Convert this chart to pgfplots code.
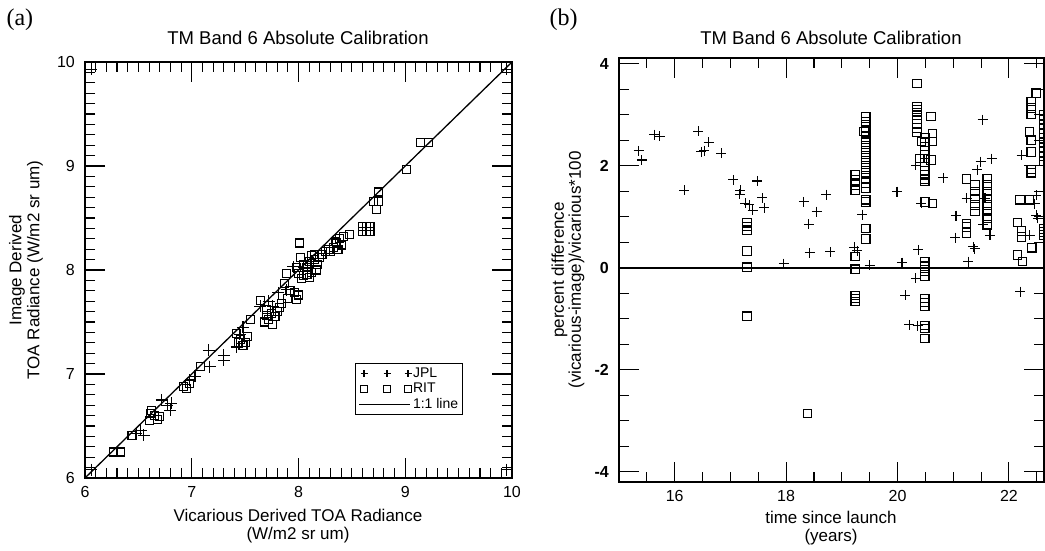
\documentclass[border=0pt]{standalone}
\usepackage{fontspec}
\setmainfont{Liberation Sans}
\newfontfamily\seriffont{Liberation Serif}
\usepackage{pgfplots}
\pgfplotsset{compat=1.18}

\pgfplotsset{
  idl/.style={
    scale only axis,
    anchor=south west,
    axis line style={line width=1.3pt},
    major tick length=0pt,
    minor tick length=0pt,
    tick label style={font=\fontsize{16}{18}\selectfont, inner sep=0pt},
    xticklabel style={yshift=-8pt},
    yticklabel style={xshift=-10pt},
  },
  tickup/.style={forget plot, only marks, black, mark=|, mark size=#1, mark options={yshift=#1, line width=1.1pt}},
  tickdown/.style={forget plot, only marks, black, mark=|, mark size=#1, mark options={yshift=-#1, line width=1.1pt}},
  tickright/.style={forget plot, only marks, black, mark=-, mark size=#1, mark options={xshift=#1, line width=1.1pt}},
  tickleft/.style={forget plot, only marks, black, mark=-, mark size=#1, mark options={xshift=-#1, line width=1.1pt}},
  jpl/.style={only marks, mark=+, mark size=6pt, mark options={line width=1.1pt}},
  rit/.style={only marks, mark=square, mark size=4pt, mark options={line width=1.1pt}},
  leg marks/.style={legend image code/.code={%
    \draw[##1, mark size=3.5pt] plot[only marks] coordinates {(0pt,0pt) (23pt,0pt) (44pt,0pt)};}},
  leg line/.style={legend image code/.code={%
    \draw[##1] (-5pt,0pt) -- (46pt,0pt);}},
}

\begin{document}
\begin{tikzpicture}
\useasboundingbox (0pt,0pt) rectangle (1045pt,550pt);

% panel labels and titles
\node[anchor=west, font=\seriffont\fontsize{24}{26}\selectfont] at (3pt,530pt) {(a)};
\node[anchor=west, font=\seriffont\fontsize{24}{26}\selectfont] at (546pt,530pt) {(b)};
\node[font=\fontsize{18.5}{20}\selectfont] at (298pt,512pt) {TM Band 6 Absolute Calibration};
\node[font=\fontsize{18.5}{20}\selectfont] at (831pt,512pt) {TM Band 6 Absolute Calibration};

% axis labels
\node[align=center, font=\fontsize{17}{18}\selectfont] at (298pt,24pt) {Vicarious Derived TOA Radiance\\(W/m2 sr um)};
\node[align=center, font=\fontsize{17}{18}\selectfont, rotate=90] at (26pt,280pt) {Image Derived\\TOA Radiance (W/m2 sr um)};
\node[align=center, font=\fontsize{17}{18}\selectfont] at (831pt,22pt) {time since launch\\(years)};
\node[align=center, font=\fontsize{17}{17}\selectfont, rotate=90] at (568pt,280pt) {percent difference\\(vicarious-image)/vicarious*100};

% (a) image vs vicarious radiance
\begin{axis}[idl,
  at={(85pt,72pt)}, width=427pt, height=416pt,
  xmin=6, xmax=10, ymin=6, ymax=10,
  xtick={6,7,8,9,10}, xticklabels={6,7,8,9,10},
  ytick={6,7,8,9,10}, yticklabels={6,7,8,9,10},
  legend style={at={(0.632,0.276)}, anchor=north west, draw=black, line width=1pt,
    font=\fontsize{14}{15}\selectfont, inner sep=3pt, row sep=1pt,
    nodes={inner sep=1.5pt}},
  legend cell align=left,
]
% tick marks, major
\addplot[tickup=10pt] coordinates {(7,6) (8,6) (9,6)};
\addplot[tickdown=10pt] coordinates {(7,10) (8,10) (9,10)};
\addplot[tickright=10pt] coordinates {(6,7) (6,8) (6,9)};
\addplot[tickleft=10pt] coordinates {(10,7) (10,8) (10,9)};
% tick marks, minor
\addplot[tickup=5pt] coordinates {
  (6.1,6) (6.2,6) (6.3,6) (6.4,6) (6.5,6) (6.6,6) (6.7,6) (6.8,6) (6.9,6)
  (7.1,6) (7.2,6) (7.3,6) (7.4,6) (7.5,6) (7.6,6) (7.7,6) (7.8,6) (7.9,6)
  (8.1,6) (8.2,6) (8.3,6) (8.4,6) (8.5,6) (8.6,6) (8.7,6) (8.8,6) (8.9,6)
  (9.1,6) (9.2,6) (9.3,6) (9.4,6) (9.5,6) (9.6,6) (9.7,6) (9.8,6) (9.9,6)};
\addplot[tickdown=5pt] coordinates {
  (6.1,10) (6.2,10) (6.3,10) (6.4,10) (6.5,10) (6.6,10) (6.7,10) (6.8,10) (6.9,10)
  (7.1,10) (7.2,10) (7.3,10) (7.4,10) (7.5,10) (7.6,10) (7.7,10) (7.8,10) (7.9,10)
  (8.1,10) (8.2,10) (8.3,10) (8.4,10) (8.5,10) (8.6,10) (8.7,10) (8.8,10) (8.9,10)
  (9.1,10) (9.2,10) (9.3,10) (9.4,10) (9.5,10) (9.6,10) (9.7,10) (9.8,10) (9.9,10)};
\addplot[tickright=5pt] coordinates {
  (6,6.1) (6,6.2) (6,6.3) (6,6.4) (6,6.5) (6,6.6) (6,6.7) (6,6.8) (6,6.9)
  (6,7.1) (6,7.2) (6,7.3) (6,7.4) (6,7.5) (6,7.6) (6,7.7) (6,7.8) (6,7.9)
  (6,8.1) (6,8.2) (6,8.3) (6,8.4) (6,8.5) (6,8.6) (6,8.7) (6,8.8) (6,8.9)
  (6,9.1) (6,9.2) (6,9.3) (6,9.4) (6,9.5) (6,9.6) (6,9.7) (6,9.8) (6,9.9)};
\addplot[tickleft=5pt] coordinates {
  (10,6.1) (10,6.2) (10,6.3) (10,6.4) (10,6.5) (10,6.6) (10,6.7) (10,6.8) (10,6.9)
  (10,7.1) (10,7.2) (10,7.3) (10,7.4) (10,7.5) (10,7.6) (10,7.7) (10,7.8) (10,7.9)
  (10,8.1) (10,8.2) (10,8.3) (10,8.4) (10,8.5) (10,8.6) (10,8.7) (10,8.8) (10,8.9)
  (10,9.1) (10,9.2) (10,9.3) (10,9.4) (10,9.5) (10,9.6) (10,9.7) (10,9.8) (10,9.9)};
% data
\addplot[jpl, leg marks] coordinates {
  (7.16,7.23) (7.30,7.18) (7.17,7.07) (7.30,7.13) (7.42,7.26)
  (6.72,6.75) (6.81,6.72) (6.80,6.65) (6.77,6.70)
  (6.52,6.46) (6.48,6.43) (6.55,6.41)
  (7.64,7.65) (7.76,7.65) (7.81,7.78) (7.95,8.03) (7.89,7.81)
  (6.98,6.94) (7.03,6.98) (8.05,8.02) (8.12,8.08) (7.72,7.70)
  (7.48,7.45) (7.45,7.38)
  (6.06,9.93) (9.95,9.93) (6.06,6.08) (9.95,6.08)
};
\addlegendentry{JPL}
\addplot[rit, leg marks] coordinates {
  (9.14,9.23) (9.22,9.23) (9.01,8.97) (8.75,8.75) (8.70,8.66) (8.75,8.66) (8.73,8.58)
  (8.60,8.42) (8.64,8.42) (8.67,8.42) (8.60,8.37) (8.64,8.37) (8.67,8.37)
  (8.48,8.34) (8.42,8.32) (8.38,8.30) (8.36,8.26) (8.40,8.24) (8.33,8.22)
  (8.37,8.20) (8.30,8.18) (8.35,8.27)
  (8.01,8.26)
  (8.02,8.12) (8.05,8.05) (8.08,8.02) (8.10,8.08) (8.12,7.98) (8.15,8.10)
  (8.18,8.05) (8.20,8.12) (8.22,8.15) (8.05,7.95) (8.00,7.97) (7.98,8.02)
  (8.10,7.93) (8.25,8.18) (8.28,8.20) (8.15,8.15) (8.12,8.14) (8.03,7.92)
  (8.08,7.96) (8.17,8.00)
  (7.89,7.97) (7.87,7.87) (7.92,7.80) (7.96,7.78) (8.00,7.76) (7.90,7.73) (7.98,7.72)
  (7.64,7.71) (7.70,7.62) (7.75,7.58) (7.78,7.55) (7.80,7.60) (7.72,7.52)
  (7.68,7.50) (7.82,7.64) (7.76,7.48) (7.84,7.68) (7.70,7.56)
  (7.55,7.52) (7.42,7.39) (7.46,7.33) (7.50,7.30) (7.52,7.36) (7.48,7.27) (7.44,7.30)
  (7.08,7.07) (6.92,6.88) (6.98,6.91) (6.95,6.86)
  (6.62,6.65) (6.61,6.62) (6.70,6.59) (6.65,6.60) (6.60,6.55) (6.68,6.56)
  (6.44,6.41) (6.27,6.25) (6.33,6.25)
};
\addlegendentry{RIT}
\addplot[black, line width=1.3pt, leg line] coordinates {(6,6) (10,10)};
\addlegendentry{1:1 line}
\end{axis}

% (b) percent difference vs time since launch
\begin{axis}[idl,
  at={(619pt,68pt)}, width=425pt, height=424pt,
  xmin=15, xmax=22.63, ymin=-4.2, ymax=4.11,
  xtick={16,18,20,22}, xticklabels={16,18,20,22},
  ytick={-4,-2,0,2,4}, yticklabels={-4,-2,0,2,4},
  yticklabel style={font=\fontsize{16}{18}\selectfont\bfseries},
]
% tick marks, major
\addplot[tickup=10pt] coordinates {(16,-4.2) (18,-4.2) (20,-4.2) (22,-4.2)};
\addplot[tickdown=10pt] coordinates {(16,4.11) (18,4.11) (20,4.11) (22,4.11)};
\addplot[tickright=10pt] coordinates {(15,-4) (15,-2) (15,2) (15,4)};
\addplot[tickleft=10pt] coordinates {(22.63,-4) (22.63,-2) (22.63,2) (22.63,4)};
% tick marks, minor
\addplot[tickup=5pt] coordinates {
  (15.5,-4.2) (16.5,-4.2) (17,-4.2) (17.5,-4.2) (18.5,-4.2) (19,-4.2)
  (19.5,-4.2) (20.5,-4.2) (21,-4.2) (21.5,-4.2) (22.5,-4.2)};
\addplot[tickdown=5pt] coordinates {
  (15.5,4.11) (16.5,4.11) (17,4.11) (17.5,4.11) (18.5,4.11) (19,4.11)
  (19.5,4.11) (20.5,4.11) (21,4.11) (21.5,4.11) (22.5,4.11)};
\addplot[tickright=5pt] coordinates {
  (15,-3.5) (15,-3) (15,-2.5) (15,-1.5) (15,-1) (15,-0.5)
  (15,0.5) (15,1) (15,1.5) (15,2.5) (15,3) (15,3.5)};
\addplot[tickleft=5pt] coordinates {
  (22.63,-3.5) (22.63,-3) (22.63,-2.5) (22.63,-1.5) (22.63,-1) (22.63,-0.5)
  (22.63,0.5) (22.63,1) (22.63,1.5) (22.63,2.5) (22.63,3) (22.63,3.5)};
% zero line and data
\addplot[black, line width=2.4pt] coordinates {(15,0) (22.63,0)};
\addplot[jpl, mark size=5pt] coordinates {
  (15.35,2.29) (15.41,2.11) (15.63,2.61) (15.73,2.58) (16.17,1.52)
  (16.42,2.67) (16.48,2.27) (16.53,2.29) (16.61,2.46) (16.84,2.24)
  (17.05,1.72) (17.18,1.52) (17.17,1.44) (17.27,1.26) (17.34,1.23)
  (17.40,1.13) (17.48,1.70) (17.57,1.37) (17.61,1.18) (17.96,0.08)
  (18.32,1.29) (18.41,0.85) (18.42,0.29) (18.55,1.10) (18.72,1.43) (18.79,0.31)
  (19.22,0.40) (19.28,0.33) (19.37,1.04) (19.50,0.05) (19.99,1.49)
  (20.08,0.10) (20.14,-0.54) (20.21,-1.12) (20.33,-0.21) (20.37,0.35)
  (20.36,-1.14) (20.33,2.01) (20.43,1.26) (20.82,1.76)
  (21.53,2.90) (21.69,2.14) (21.49,2.08) (21.43,1.92) (21.05,1.02)
  (21.04,0.59) (21.27,0.12) (21.36,0.41) (21.39,0.37) (21.24,1.36)
  (21.57,1.36) (21.54,0.84) (21.66,0.64)
  (22.20,-0.47) (22.23,2.20) (22.49,1.42) (22.46,1.25) (22.49,1.03)
  (22.52,0.97) (22.37,0.64)
};
\addplot[rit, mark size=4.2pt] coordinates {
  (17.30,0.88) (17.30,0.81) (17.30,0.74) (17.30,0.33) (17.30,0.01) (17.30,-0.95)
  (18.38,-2.86)
  (19.43,2.96) (19.43,2.86) (19.43,2.76) (19.43,2.66) (19.43,2.56) (19.43,2.46)
  (19.43,2.36) (19.43,2.26) (19.43,2.16) (19.43,2.06) (19.43,1.96) (19.43,1.86)
  (19.43,1.76) (19.43,1.66) (19.43,1.56) (19.43,1.33) (19.43,1.29)
  (19.43,0.77) (19.43,0.56) (19.40,2.67)
  (19.24,1.82) (19.24,1.72) (19.24,1.62) (19.24,1.52) (19.24,0.22) (19.24,-0.03)
  (19.24,-0.54) (19.24,-0.60) (19.24,-0.66)
  (20.35,3.61) (20.35,3.16) (20.35,3.10) (20.35,3.04) (20.35,2.98) (20.35,2.90)
  (20.35,2.82) (20.35,2.74) (20.35,2.66)
  (20.49,2.54) (20.49,2.46) (20.49,2.38) (20.49,2.30) (20.49,2.22) (20.49,2.14)
  (20.49,2.06) (20.49,1.98) (20.49,1.90) (20.49,1.82) (20.49,1.74) (20.49,1.69)
  (20.60,2.96) (20.63,2.63) (20.63,2.47) (20.60,2.11) (20.63,1.26) (20.49,1.29)
  (20.40,2.14) (20.43,2.47)
  (20.49,0.12) (20.49,0.03) (20.49,-0.07) (20.49,-0.17) (20.49,-0.60)
  (20.49,-0.68) (20.49,-0.76) (20.49,-1.13) (20.49,-1.19) (20.49,-1.39)
  (21.24,1.74) (21.24,0.87) (21.24,0.80) (21.24,0.68)
  (21.39,1.62) (21.39,1.49) (21.39,1.36) (21.39,1.23) (21.39,1.10)
  (21.61,1.75) (21.61,1.62) (21.61,1.49) (21.61,1.36) (21.61,1.23)
  (21.61,1.10) (21.61,0.97) (21.61,0.84)
  (22.20,1.33) (22.15,0.89) (22.23,0.72) (22.23,0.60) (22.41,0.39)
  (22.15,0.25) (22.24,0.12)
  (22.49,3.42) (22.40,3.26) (22.40,3.13) (22.40,3.00) (22.37,2.66)
  (22.40,2.50) (22.40,2.27) (22.40,1.92) (22.40,1.86) (22.37,1.33)
  (22.62,2.99) (22.62,2.90) (22.62,2.81) (22.62,2.72) (22.62,2.63)
  (22.62,2.54) (22.62,2.45) (22.62,2.36) (22.62,2.27) (22.62,2.18)
  (22.62,2.08) (22.62,0.76) (22.62,0.70) (22.62,0.64)
};
\end{axis}
\end{tikzpicture}
\end{document}
